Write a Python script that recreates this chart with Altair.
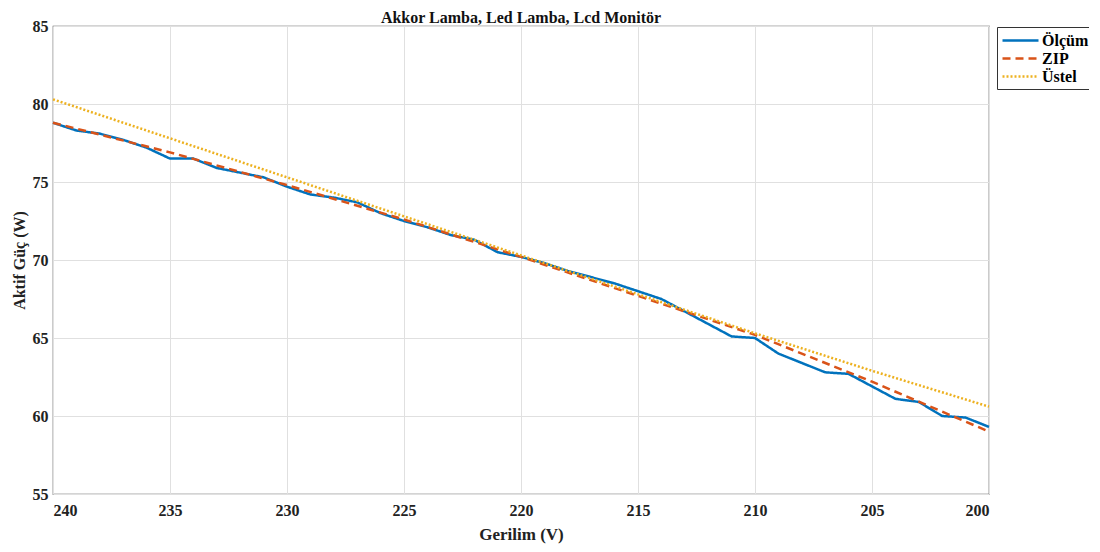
import altair as alt
import pandas as pd

# Measured data (Ölçüm) at every volt from 240 down to 200
voltage = list(range(240, 199, -1))
olcum = [78.8, 78.3, 78.1, 77.7, 77.2, 76.5, 76.5, 75.9, 75.6, 75.3,
         74.7, 74.2, 74.0, 73.7, 73.0, 72.5, 72.1, 71.6, 71.3, 70.5,
         70.2, 69.8, 69.3, 68.9, 68.5, 68.0, 67.5, 66.7, 65.9, 65.1,
         65.0, 64.0, 63.4, 62.8, 62.7, 61.9, 61.1, 60.9, 60.0, 59.9,
         59.3]

# Model curves read every 5 V
model_voltage = [240, 235, 230, 225, 220, 215, 210, 205, 200]
zip_model = [78.8, 76.9, 74.8, 72.6, 70.2, 67.7, 65.2, 62.2, 59.0]
ustel_model = [80.3, 77.8, 75.3, 72.8, 70.3, 67.8, 65.3, 62.9, 60.6]

series_names = ["Ölçüm", "ZIP", "Üstel"]
series_colors = ["#0072BD", "#D95319", "#EDB120"]
series_dash = [[1, 0], [8, 5], [2, 2]]
series_width = [2.5, 2.5, 2.0]

x_ticks = [240, 235, 230, 225, 220, 215, 210, 205, 200]
y_ticks = [55, 60, 65, 70, 75, 80, 85]

rows = []
for v, p in zip(voltage, olcum):
    rows.append({"V": v, "P": p, "seri": "Ölçüm"})
for v, p in zip(model_voltage, zip_model):
    rows.append({"V": v, "P": p, "seri": "ZIP"})
for v, p in zip(model_voltage, ustel_model):
    rows.append({"V": v, "P": p, "seri": "Üstel"})
df = pd.DataFrame(rows)

FONT = "Liberation Serif"

legend_common = dict(
    title=None,
    orient="none",
    legendX=944,
    legendY=1,
    direction="vertical",
    symbolType="M-1,0H3.5",
    symbolSize=256,
    symbolStrokeWidth=2.5,
    labelFont=FONT,
    labelFontSize=16,
    labelFontWeight="bold",
    labelColor="black",
    labelOffset=22,
    strokeColor="#333333",
    fillColor="white",
    padding=4,
    rowPadding=-2,
)

chart = (
    alt.Chart(df)
    .mark_line()
    .encode(
        x=alt.X(
            "V:Q",
            scale=alt.Scale(domain=[200, 240], reverse=True, nice=False, zero=False),
            axis=alt.Axis(
                values=x_ticks,
                title="Gerilim (V)",
                labelFont=FONT,
                labelFontSize=16,
                labelFontWeight="bold",
                labelColor="#222222",
                labelPadding=8,
                titleFont=FONT,
                titleFontSize=17,
                titleFontWeight="bold",
                titleColor="#222222",
                titlePadding=8,
                ticks=False,
                domain=False,
                gridColor="#e0e0e0",
                format="d",
            ),
        ),
        y=alt.Y(
            "P:Q",
            scale=alt.Scale(domain=[55, 85], nice=False, zero=False),
            axis=alt.Axis(
                values=y_ticks,
                title="Aktif Güç (W)",
                labelFont=FONT,
                labelFontSize=16,
                labelFontWeight="bold",
                labelColor="#222222",
                labelPadding=5,
                titleFont=FONT,
                titleFontSize=16,
                titleFontWeight="bold",
                titleColor="#222222",
                titlePadding=5,
                ticks=False,
                domain=False,
                gridColor="#e0e0e0",
                format="d",
            ),
        ),
        color=alt.Color(
            "seri:N",
            scale=alt.Scale(domain=series_names, range=series_colors),
            legend=alt.Legend(**legend_common),
        ),
        strokeDash=alt.StrokeDash(
            "seri:N",
            scale=alt.Scale(domain=series_names, range=series_dash),
            legend=alt.Legend(**legend_common),
        ),
        strokeWidth=alt.StrokeWidth(
            "seri:N",
            scale=alt.Scale(domain=series_names, range=series_width),
            legend=None,
        ),
    )
    .properties(
        width=936,
        height=468,
        title=alt.TitleParams(
            "Akkor Lamba, Led Lamba, Lcd Monitör",
            font=FONT,
            fontSize=16,
            fontWeight="bold",
            color="#111111",
            anchor="middle",
            offset=5,
            dy=13,
        ),
        autosize=alt.AutoSizeParams(type="none"),
        padding={"left": 45, "top": 18, "right": 100, "bottom": 50},
    )
    .configure_view(stroke="#555555", strokeWidth=1.2)
)

chart.save("out.html", embed_options={"renderer": "svg", "actions": False})
